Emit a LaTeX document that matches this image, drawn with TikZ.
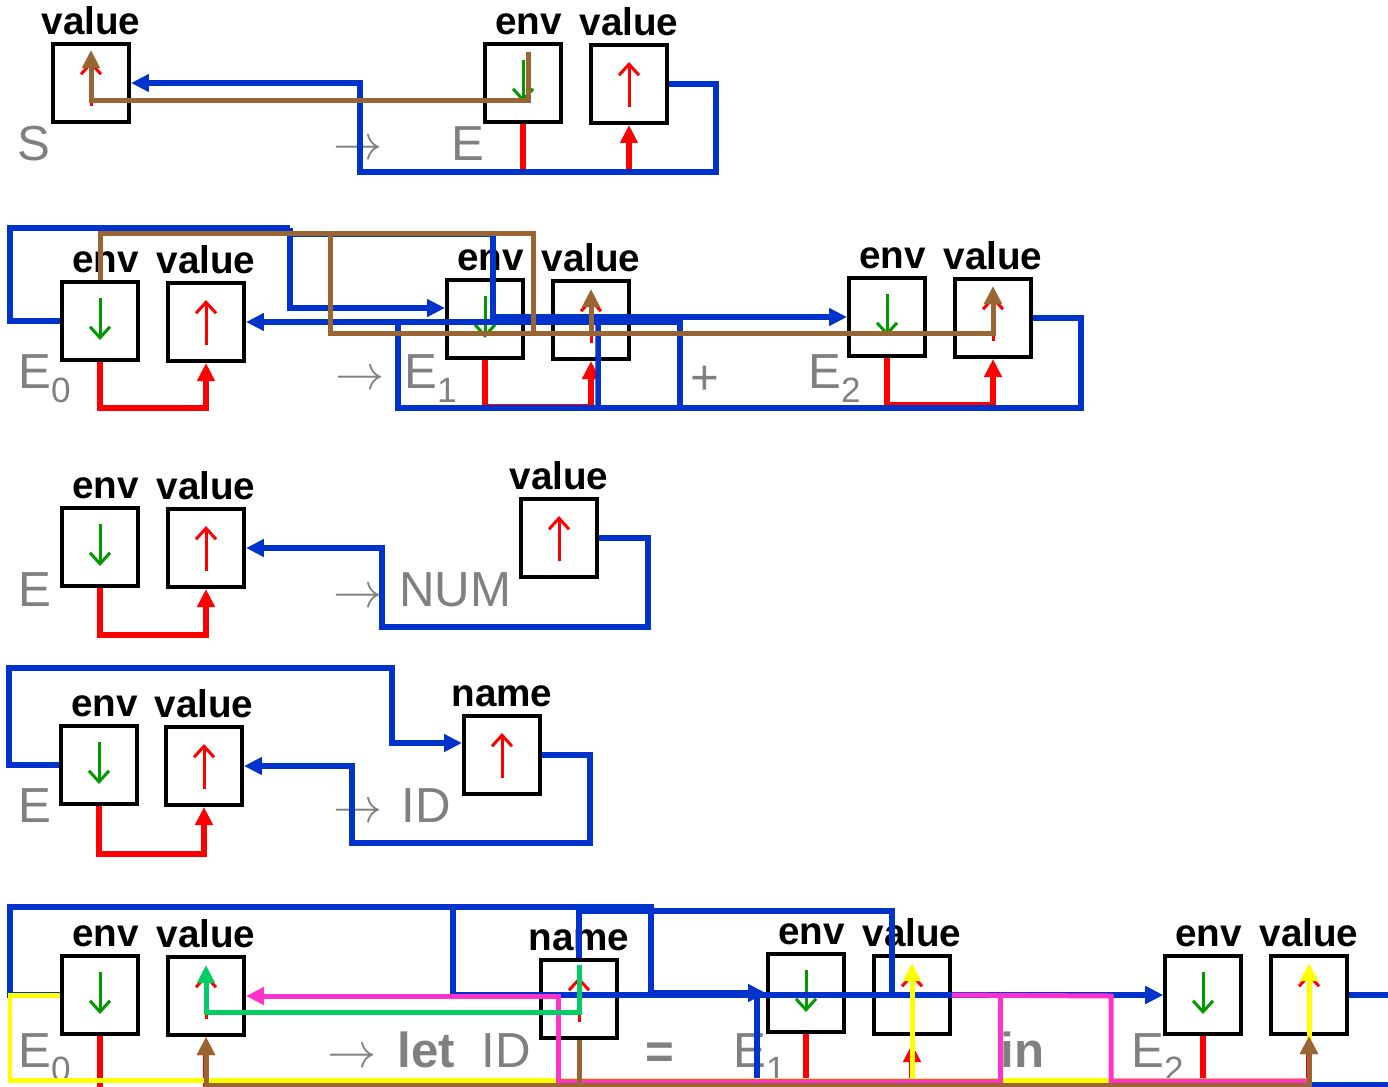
\documentclass[tikz,border=0pt]{standalone}
\usepackage{fontspec}
\setmainfont{Liberation Sans}
\usetikzlibrary{arrows.meta}

\definecolor{wireblue}{RGB}{0,51,204}
\definecolor{wirered}{RGB}{255,0,0}
\definecolor{wirebrown}{RGB}{153,102,51}
\definecolor{wiregreen}{RGB}{0,204,102}
\definecolor{wireyellow}{RGB}{255,255,0}
\definecolor{wirepink}{RGB}{255,51,204}
\definecolor{downgreen}{RGB}{0,153,0}
\definecolor{symgray}{RGB}{128,128,128}

% lowered index digit after a nonterminal
\newcommand{\lowidx}[1]{\raisebox{-0.28cm}{\fontsize{20}{20}\selectfont #1}}

\begin{document}
\begin{tikzpicture}[x=0.02cm, y=-0.02cm,
    slot/.style={draw, line width=0.08cm, minimum width=1.52cm, minimum height=1.56cm, inner sep=0pt},
    lbl/.style={font=\bfseries\fontsize{22}{22}\selectfont, inner sep=0pt},
    envslot/.style={slot, label={[lbl, xshift=0.11cm]above:env}},
    valslot/.style={slot, label={[lbl]above:value}},
    nameslot/.style={slot, label={[lbl]above:name}},
    sym/.style={text=symgray, font=\fontsize{28}{28}\selectfont, inner sep=0pt, anchor=base west},
    kw/.style={sym, font=\bfseries\fontsize{28}{28}\selectfont},
    prod/.style={text=symgray, inner sep=0pt, anchor=base},
    envdown/.style={downgreen, line width=0.06cm, -{Straight Barb[length=0.22cm,width=0.4cm]}},
    valup/.style={envdown, wirered},
    wire/.style={line width=0.11cm, -{Triangle[length=0.36cm,width=0.34cm]}},
    plain/.style={line width=0.11cm},
    thin/.style={line width=0.1cm},
    label distance=0.14cm
]
    \useasboundingbox (0,0) rectangle (1388,1086);
    \clip (0,0) rectangle (1388,1086);

    % S -> E
    \node[valslot] (sV) at (91,83) {};
    \node[envslot] (eE) at (523,83) {};
    \node[valslot] (eV) at (629,84) {};
    \node[sym] (tS) at (17,160) {S};
    \node[prod] (p1) at (358,159) {\scalebox{2.8}{$\rightarrow$}};
    \node[sym] (tE) at (451,160) {E};

    % E0 -> E1 + E2
    \node[envslot] (aE) at (100,321) {};
    \node[valslot] (aV) at (206,322) {};
    \node[envslot] (bE) at (485,319) {};
    \node[valslot] (bV) at (591,320) {};
    \node[envslot] (cE) at (887,317) {};
    \node[valslot] (cV) at (993,318) {};
    \node[sym] (tA) at (18,388) {E\lowidx{0}};
    \node[prod] (p2) at (360,389) {\scalebox{2.8}{$\rightarrow$}};
    \node[sym] (tB) at (404,388) {E\lowidx{1}};
    \node[prod, font=\fontsize{28}{28}\selectfont] (tPlus) at (705,394) {+};
    \node[sym] (tC) at (808,388) {E\lowidx{2}};

    % E -> NUM
    \node[envslot] (nE) at (100,547) {};
    \node[valslot] (nV) at (206,548) {};
    \node[valslot] (num) at (559,538) {};
    \node[sym] (tN) at (18,606) {E};
    \node[prod] (p3) at (358,607) {\scalebox{2.8}{$\rightarrow$}};
    \node[sym] (tNum) at (399,606) {NUM};

    % E -> ID
    \node[envslot] (iE) at (99,765) {};
    \node[valslot] (iV) at (204,766) {};
    \node[nameslot] (idn) at (502,755) {};
    \node[sym] (tI) at (18,822) {E};
    \node[prod] (p4) at (358,822) {\scalebox{2.8}{$\rightarrow$}};
    \node[sym] (tId) at (401,822) {ID};

    % E0 -> let ID = E1 in E2
    \node[envslot] (lE) at (100,995) {};
    \node[valslot] (lV) at (206,996) {};
    \node[nameslot] (lN) at (579,999) {};
    \node[envslot] (xE) at (806,993) {};
    \node[valslot] (xV) at (912,995) {};
    \node[envslot] (yE) at (1203,995) {};
    \node[valslot] (yV) at (1309,995) {};
    \node[sym] (tL) at (18,1067) {E\lowidx{0}};
    \node[prod] (p5) at (352,1067) {\scalebox{2.8}{$\rightarrow$}};
    \node[kw] (tLet) at (397,1067) {let};
    \node[sym] (tLid) at (481,1067) {ID};
    \node[kw, anchor=base] (tEq) at (660,1068) {=};
    \node[sym] (tX) at (733,1067) {E\lowidx{1}};
    \node[kw] (tIn) at (1000,1067) {in};
    \node[sym] (tY) at (1131,1067) {E\lowidx{2}};

    % arrows inside the slots
    \foreach \b in {eE,aE,bE,cE,nE,iE,lE,xE,yE}
        \draw[envdown] ([yshift=0.46cm]\b.center) -- ([yshift=-0.38cm]\b.center);
    \foreach \b in {sV,eV,aV,bV,cV,nV,num,iV,idn,lV,lN,xV,yV}
        \draw[valup] ([yshift=-0.46cm]\b.center) -- ([yshift=0.44cm]\b.center);

    % env -> value inside each E
    \draw[wire, wirered] (eE.south) -- ++(0,48) -| (eV.south);
    \draw[wire, wirered] (aE.south) -- ++(0,46) -| (aV.south);
    \draw[wire, wirered] (bE.south) -- ++(0,47) -| (bV.south);
    \draw[wire, wirered] (cE.south) -- ++(0,47) -| (cV.south);
    \draw[wire, wirered] (nE.south) -- ++(0,47) -| (nV.south);
    \draw[wire, wirered] (iE.south) -- ++(0,48) -| (iV.south);
    \draw[wire, wirered] (lE.south) -- (100,1100) -| (lV.south);
    \draw[wire, wirered] (xE.south) -- (806,1100) -| ([yshift=-0.16cm]xV.south);
    \draw[wire, wirered] (yE.south) -- (1203,1100) -| (yV.south);

    % blue flows
    \draw[wire, wireblue] (eV.east) -- (716,84) -- (716,172) -- (360,172) |- (sV.east);

    \draw[plain, wireblue] (aE.west) -- (10,321) -- (10,228) -- (290,228);
    \draw[wire, wireblue] (290,228) |- ([yshift=0.22cm]bE.west);
    \draw[wire, wireblue] (290,234) -- (493,234) |- (cE.west);
    \draw[wire, wireblue] (cV.east) -- (1081,318) -- (1081,408) -- (398,408) |- (aV.east);
    \draw[plain, wireblue] ([xshift=0.14cm]bV.center) -- (598,408);
    \draw[plain, wireblue] (398,322) -- (680,322) -- (680,408);

    \draw[wire, wireblue] (num.east) -- (648,538) -- (648,627) -- (382,627) |- (nV.east);

    \draw[wire, wireblue] (iE.west) -- (9,765) -- (9,668) -- (392,668) |- ([yshift=0.24cm]idn.west);
    \draw[wire, wireblue] (idn.east) -- (590,755) -- (590,843) -- (352,843) |- (iV.east);

    \draw[plain, wireblue] (lE.west) -- (10,995) -- (10,907) -- (651,907) -- (651,993);
    \draw[wire, wireblue] (651,993) -- (xE.west);
    \draw[wire, wireblue] (453,907) |- (yE.west);
    \draw[wire, wireblue] (lN.north) -- (579,911) -- (892,911) |- (yE.west);
    \draw[plain, wireblue] (757,993) -- (757,1100);
    \draw[plain, wireblue] (yV.east) -- (1400,995);
    \draw[plain, wireblue] (1311,1085) -- (1400,1085);

    % yellow, pink and green in the let rule
    \draw[thin, wireyellow] (lE.west) -- (10,995) -- (10,1080) -- (1309,1080);
    \draw[wire, thin, wireyellow] (912,1080) -- ([yshift=-0.18cm]xV.north);
    \draw[wire, thin, wireyellow] (1309,1080) -- ([yshift=-0.18cm]yV.north);

    \draw[thin, wirepink] (xV.east) -- (1111,996) -- (1111,1081) -- (1309,1081);
    \draw[wire, thin, wirepink] (1000,996) -- (1000,1081) -- (558,1081) |- (lV.east);

    \draw[wire, thin, wiregreen] ([yshift=-0.14cm]lN.north) -- (579,1012) -| ([yshift=-0.2cm]lV.north);

    % brown flows
    \draw[wire, thin, wirebrown] ([shift={(5,10)}]eE.north) -- ++(0,48) -| ([yshift=-0.16cm]sV.north);
    \draw[wire, thin, wirebrown] (aE.north) |- (533,233) -- (533,333) -| ([yshift=-0.18cm]cV.north);
    \draw[wire, thin, wirebrown] (330,233) -- (330,333) -| ([yshift=-0.2cm]bV.north);
    \draw[wire, thin, wirebrown] (lN.south) -- (579,1085) -| (lV.south);
    \draw[wire, thin, wirebrown] (579,1085) -| (yV.south);
\end{tikzpicture}
\end{document}
